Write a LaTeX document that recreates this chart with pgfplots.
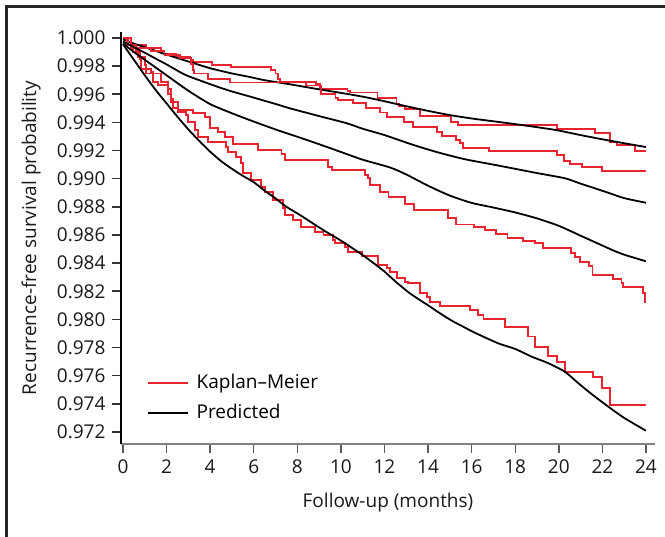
\documentclass[border=0pt]{standalone}
\usepackage{pgfplots}
\pgfplotsset{compat=1.18}
\usepackage{fontspec}
\setmainfont{Open Sans}
\definecolor{kmred}{RGB}{232,36,46}
\begin{document}
\fontsize{19}{23}\selectfont
\begin{tikzpicture}[x=1pt,y=1pt]
\path[use as bounding box] (0,0) rectangle (665,537);
\draw[line width=2.5pt, black!85] (6.3,-5) -- (6.3,530.7) -- (670,530.7);
\begin{axis}[
 at={(121pt,93pt)}, anchor=south west,
 scale only axis, width=534pt, height=412pt,
 xmin=-0.092, xmax=24.415, ymin=0.971146, ymax=1.000426,
 axis lines=left, axis line style={-},
 x axis line style={black!50, line width=1.4pt},
 y axis line style={black, line width=1.6pt},
 xtick={0,2,4,6,8,10,12,14,16,18,20,22,24},
 ytick={0.972,0.974,0.976,0.978,0.980,0.982,0.984,0.986,0.988,0.990,0.992,0.994,0.996,0.998,1.000},
 yticklabel style={/pgf/number format/fixed, /pgf/number format/fixed zerofill, /pgf/number format/precision=3},
 tick align=outside, major tick length=9pt,
 xtick style={black!65, line width=1.4pt},
 ytick style={black!80, line width=1.6pt},
 /pgf/number format/assume math mode=true,
 tick label style={font=\fontsize{19}{23}\selectfont, black!90},
 label style={font=\fontsize{19}{23}\selectfont, black!90},
 xlabel={Follow-up (months)},
 ylabel={Recurrence-free survival probability},
 xlabel style={at={(axis description cs:0.5,-0.1432)}, anchor=center},
 ylabel style={at={(axis description cs:-0.1685,0.5)}, anchor=center},
 legend image code/.code={\draw[#1] plot coordinates {(0pt,0pt) (40pt,0pt)};},
 legend style={draw=none, fill=none, at={(axis description cs:0.048,0.175)}, anchor=north west,
   font=\fontsize{19}{23}\selectfont, row sep=9pt, column sep=6pt, inner sep=0pt,
   nodes={inner sep=2pt}},
 legend cell align=left,
]
% Red A
\addplot[kmred, line width=1.8pt, const plot] coordinates {
(0,1.0000) (0.2,0.99950) (1.07,0.99930) (1.75,0.99890) (2.45,0.99868) (3.1,0.99845) (3.2,0.99832)
(4.1,0.99808) (4.96,0.99796) (6.8,0.99771) (7.0,0.99747) (7.1,0.99710) (7.2,0.99688) (8.86,0.99674)
(9.05,0.99640) (10.3,0.99625) (10.4,0.99613) (11.68,0.99576) (12.55,0.99535) (12.65,0.99516)
(12.94,0.99493) (13.63,0.99446) (15.07,0.99405) (15.39,0.99384) (19.9,0.99351) (21.66,0.99327)
(22.35,0.99263) (22.66,0.99240) (23.5,0.99197) (24,0.99197)};
\addlegendentry{Kaplan–Meier}
% Black 1
\addplot[black, line width=1.8pt, smooth, tension=0.4] coordinates {
(0,0.99990) (0.5,0.99960) (1,0.99935) (1.5,0.99908) (2,0.99882) (2.5,0.99857) (3,0.99833) (4,0.99785)
(5,0.99748) (5.75,0.99725) (6.5,0.99700) (7.66,0.99671) (9,0.99635) (10,0.99610) (11,0.99583)
(11.87,0.99555) (13,0.99515) (14,0.99482) (15,0.99452) (16,0.99428) (17,0.99408) (18,0.99388)
(19,0.99366) (19.9,0.99345) (21,0.99310) (22,0.99280) (23,0.99252) (24,0.99225)};
\addlegendentry{Predicted}
% Red B
\addplot[kmred, line width=1.8pt, const plot, forget plot] coordinates {
(0,1.0000) (0.35,0.99930) (1.3,0.99905) (1.9,0.99880) (2.6,0.99855) (3.13,0.99817) (3.2,0.99770)
(3.25,0.99747) (3.9,0.99711) (4.9,0.99683) (8.4,0.99662) (9.1,0.99600) (9.75,0.99576) (9.85,0.99559)
(10.55,0.99540) (11.15,0.99500) (11.8,0.99470) (12.1,0.99441) (12.9,0.99405) (13.3,0.99370)
(14.4,0.99334) (14.65,0.99303) (15.3,0.99275) (15.45,0.99251) (15.6,0.99216) (16.8,0.99194)
(19.9,0.99168) (20.25,0.99128) (20.5,0.99105) (21.05,0.99081) (22.0,0.99057) (24,0.99057)};
% Red C
\addplot[kmred, line width=1.8pt, const plot, forget plot] coordinates {
(0,1.0000) (0.2,0.99950) (0.61,0.99912) (0.69,0.99865) (1.0,0.99806) (1.07,0.99747) (1.76,0.99687)
(2.07,0.99640) (2.22,0.99569) (2.29,0.99500) (2.52,0.99488) (3.21,0.99465) (3.75,0.99441)
(3.98,0.99358) (4.36,0.99334) (4.67,0.99299) (5.05,0.99247) (6.2,0.99204) (7.27,0.99176)
(7.42,0.99133) (9.42,0.99085) (9.58,0.99062) (11.1,0.99026) (11.26,0.99003) (11.34,0.98955)
(11.8,0.98908) (12.18,0.98872) (12.94,0.98820) (13.35,0.98778) (14.9,0.98720) (15.27,0.98675)
(16.1,0.98655) (16.6,0.98636) (17.1,0.98606) (17.65,0.98580) (18.37,0.98560) (18.9,0.98541)
(19.29,0.98505) (20.55,0.98470) (20.74,0.98446) (20.97,0.98410) (21.4,0.98380) (21.55,0.98316)
(22.5,0.98285) (22.88,0.98257) (22.96,0.98228) (23.85,0.98186) (23.96,0.98126) (24,0.98126)};
% Red D
\addplot[kmred, line width=1.8pt, const plot, forget plot] coordinates {
(0,1.0000) (0.23,0.99948) (0.46,0.99900) (0.77,0.99853) (0.84,0.99782) (1.3,0.99758) (1.38,0.99687)
(1.6,0.99664) (2.07,0.99604) (2.22,0.99545) (2.52,0.99474) (2.9,0.99450) (2.98,0.99403)
(3.29,0.99344) (3.44,0.99299) (3.9,0.99263) (4.74,0.99228) (4.82,0.99192) (5.2,0.99157)
(5.43,0.99109) (5.5,0.99038) (5.89,0.98991) (6.35,0.98943) (6.5,0.98908) (6.88,0.98849)
(7.34,0.98790) (7.42,0.98742) (7.8,0.98707) (8.18,0.98659) (8.8,0.98620) (9.2,0.98600)
(9.65,0.98564) (9.72,0.98541) (10.19,0.98517) (10.34,0.98481) (10.95,0.98451) (11.72,0.98387)
(12.1,0.98363) (12.25,0.98339) (12.56,0.98292) (12.94,0.98268) (13.09,0.98257) (13.63,0.98186)
(13.94,0.98162) (14.09,0.98126) (14.55,0.98095) (15.92,0.98067) (16.3,0.98031) (16.54,0.98001)
(17.53,0.97944) (18.6,0.97878) (18.91,0.97806) (19.52,0.97740) (19.9,0.97700) (20.28,0.97628)
(21.58,0.97593) (21.97,0.97510) (22.35,0.97392) (24,0.97392)};
% Black 2
\addplot[black, line width=1.8pt, smooth, tension=0.4, forget plot] coordinates {
(0,0.99975) (0.5,0.99935) (1,0.99895) (1.6,0.99845) (2,0.99812) (2.83,0.99740) (3.5,0.99700)
(4.36,0.99652) (5,0.99620) (5.89,0.99581) (7.11,0.99526) (7.66,0.99500) (9,0.99445) (10.27,0.99394)
(11,0.99355) (12,0.99310) (13.32,0.99240) (14.5,0.99185) (15.7,0.99138) (17,0.99100) (18,0.99070)
(19,0.99040) (20.28,0.99003) (21,0.98965) (22.12,0.98908) (23,0.98862) (24,0.98829)};
% Black 3
\addplot[black, line width=1.8pt, smooth, tension=0.4, forget plot] coordinates {
(0,0.99960) (0.5,0.99900) (1,0.99845) (1.5,0.99790) (2,0.99735) (3,0.99625) (4,0.99530) (5,0.99465)
(6,0.99406) (7.11,0.99344) (8.12,0.99292) (9,0.99245) (10,0.99190) (11,0.99135) (12.25,0.99080)
(13,0.99030) (14,0.98950) (15,0.98880) (16,0.98828) (17,0.98795) (18,0.98760) (19,0.98718)
(20,0.98665) (21,0.98595) (22,0.98525) (22.5,0.98490) (23,0.98460) (24,0.98413)};
% Black 4
\addplot[black, line width=1.8pt, smooth, tension=0.4, forget plot] coordinates {
(0,0.99955) (0.5,0.99845) (1,0.99735) (1.5,0.99630) (2,0.99535) (2.5,0.99440) (3,0.99350)
(3.5,0.99268) (4,0.99192) (4.5,0.99125) (5,0.99070) (5.5,0.99020) (6,0.98975) (6.5,0.98915)
(7,0.98860) (7.5,0.98800) (8.12,0.98742) (9.19,0.98635) (10,0.98560) (10.88,0.98470) (11.5,0.98400)
(12,0.98340) (12.5,0.98270) (13.17,0.98185) (14,0.98100) (14.55,0.98043) (15.1,0.97990)
(15.7,0.97941) (16.15,0.97905) (17.22,0.97830) (18,0.97790) (18.76,0.97735) (19.5,0.97690)
(20.28,0.97628) (20.9,0.97546) (21.5,0.97470) (22.27,0.97380) (23,0.97300) (24,0.97209)};
\end{axis}
\end{tikzpicture}
\end{document}
